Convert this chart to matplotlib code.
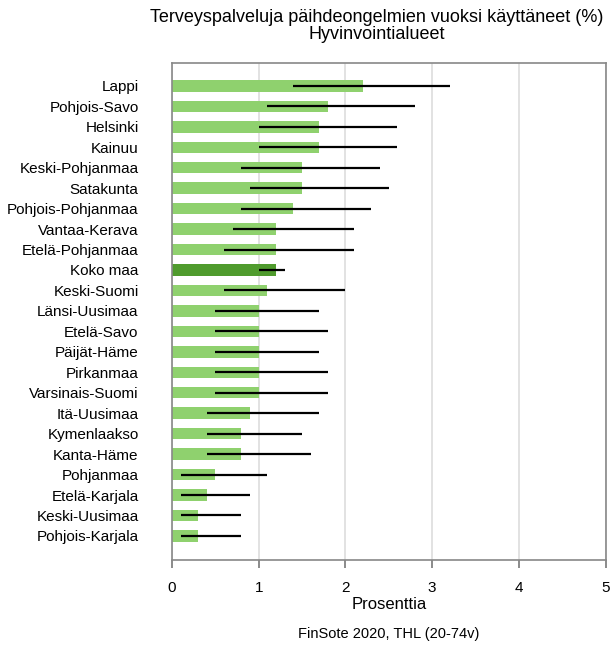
import matplotlib.pyplot as plt

plt.rcParams['font.family'] = ['Liberation Sans', 'DejaVu Sans']

regions = ["Lappi", "Pohjois-Savo", "Helsinki", "Kainuu", "Keski-Pohjanmaa",
           "Satakunta", "Pohjois-Pohjanmaa", "Vantaa-Kerava", "Etelä-Pohjanmaa",
           "Koko maa", "Keski-Suomi", "Länsi-Uusimaa", "Etelä-Savo",
           "Päijät-Häme", "Pirkanmaa", "Varsinais-Suomi", "Itä-Uusimaa",
           "Kymenlaakso", "Kanta-Häme", "Pohjanmaa", "Etelä-Karjala",
           "Keski-Uusimaa", "Pohjois-Karjala"]
values = [2.2, 1.8, 1.7, 1.7, 1.5, 1.5, 1.4, 1.2, 1.2, 1.2, 1.1, 1.0, 1.0,
          1.0, 1.0, 1.0, 0.9, 0.8, 0.8, 0.5, 0.4, 0.3, 0.3]
lower = [1.4, 1.1, 1.0, 1.0, 0.8, 0.9, 0.8, 0.7, 0.6, 1.0, 0.6, 0.5, 0.5,
         0.5, 0.5, 0.5, 0.4, 0.4, 0.4, 0.1, 0.1, 0.1, 0.1]
upper = [3.2, 2.8, 2.6, 2.6, 2.4, 2.5, 2.3, 2.1, 2.1, 1.3, 2.0, 1.7, 1.8,
         1.7, 1.8, 1.8, 1.7, 1.5, 1.6, 1.1, 0.9, 0.8, 0.8]

light = '#8fd16e'
dark = '#4f9b2d'
colors = [dark if r == "Koko maa" else light for r in regions]

fig = plt.figure(figsize=(6.14, 6.45), dpi=100)
ax = fig.add_axes([0.280, 0.132, 0.7065, 0.771])

y = list(range(len(regions)))
ax.barh(y, values, height=0.56, color=colors, zorder=2)
ax.hlines(y, lower, upper, color='black', linewidth=1.6, zorder=3)

ax.set_xlim(0, 5)
ax.set_ylim(len(regions) - 1 + 1.17, -1.14)
ax.set_xticks([0, 1, 2, 3, 4, 5])
ax.set_yticks(y)
ax.set_yticklabels(regions, fontsize=11)
ax.tick_params(axis='y', length=0, pad=24)
ax.tick_params(axis='x', length=6, width=1.2, color='#777777', labelsize=11, pad=9)
ax.grid(axis='x', color='#dddddd', linewidth=1.2, zorder=0)
for s in ax.spines.values():
    s.set_color('#888888')
    s.set_linewidth(1.2)

ax.set_xlabel("Prosenttia", fontsize=12, labelpad=2)
fig.text(0.614, 0.960, "Terveyspalveluja päihdeongelmien vuoksi käyttäneet (%)\nHyvinvointialueet",
         ha='center', va='center', fontsize=13, linespacing=1.0)
fig.text(0.633, 0.017, "FinSote 2020, THL (20-74v)", ha='center', va='center', fontsize=10.5)

plt.savefig('out.png', dpi=100)
plt.close()
